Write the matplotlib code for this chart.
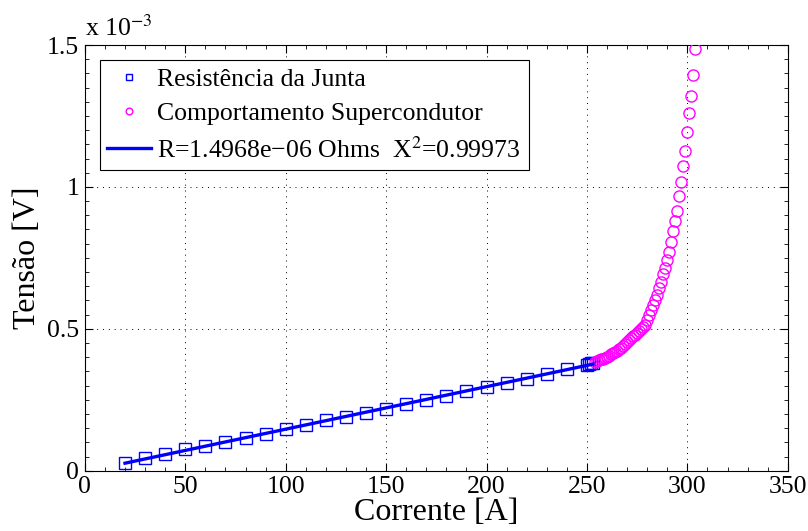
import numpy as np
import matplotlib
matplotlib.use("Agg")
import matplotlib.pyplot as plt
from matplotlib.ticker import MultipleLocator

plt.rcParams['font.family'] = ['Liberation Serif', 'DejaVu Serif']
plt.rcParams['mathtext.fontset'] = 'stix'

# Resistência da Junta (current in A, voltage in units of 1e-3 V)
junta_I = [20, 30, 40, 50, 60, 70, 80, 90, 100, 110, 120, 130, 140, 150, 160,
           170, 180, 190, 200, 210, 220, 230, 240, 250, 251, 252, 253]
junta_V = [0.026, 0.044, 0.059, 0.075, 0.087, 0.101, 0.117, 0.131, 0.147, 0.161,
           0.177, 0.190, 0.204, 0.217, 0.234, 0.249, 0.264, 0.281, 0.296, 0.308,
           0.323, 0.340, 0.357, 0.374, 0.376, 0.378, 0.380]

# Comportamento Supercondutor
sc_I = list(range(254, 305))
sc_V = [0.383, 0.386, 0.389, 0.392, 0.395, 0.398, 0.402, 0.406, 0.410, 0.414,
        0.418, 0.423, 0.428, 0.434, 0.440, 0.446, 0.452, 0.459, 0.466, 0.473,
        0.479, 0.486, 0.493, 0.499, 0.506,
        0.513, 0.531, 0.549, 0.566, 0.584, 0.601, 0.619, 0.643, 0.666, 0.692,
        0.715, 0.742, 0.772, 0.807, 0.845, 0.881, 0.916, 0.968, 1.016, 1.075,
        1.128, 1.192, 1.261, 1.321, 1.394, 1.486]

fit_label = 'R=1.4968e\u221206 Ohms  X$^2$=0.99973'
x_ticks = [0, 50, 100, 150, 200, 250, 300, 350]
y_ticks = [0, 0.5, 1, 1.5]
y_ticklabels = ['0', '0.5', '1', '1.5']

fig = plt.figure(figsize=(8.08, 5.31), dpi=100)
ax = fig.add_axes([0.105, 0.1135, 0.870, 0.8017])

# fit line from data
coef = np.polyfit(junta_I, junta_V, 1)
fx = np.array([junta_I[0], junta_I[-1]])
ax.plot(junta_I, junta_V, linestyle='none', marker='s', markersize=8,
        markerfacecolor='none', markeredgecolor='#0000ff', markeredgewidth=1.0,
        label='Resistência da Junta', zorder=3)
ax.plot(sc_I, sc_V, linestyle='none', marker='o', markersize=8,
        markerfacecolor='none', markeredgecolor='#ff00ff', markeredgewidth=1.0,
        label='Comportamento Supercondutor', zorder=3)
ax.plot(fx, np.polyval(coef, fx), color='#0000ff', linewidth=2.4,
        label=fit_label, zorder=4)

ax.set_xlim(0, 350)
ax.set_ylim(0, 1.5)
ax.set_xticks(x_ticks)
ax.set_yticks(y_ticks)
ax.set_yticklabels(y_ticklabels)
ax.xaxis.set_minor_locator(MultipleLocator(10))
ax.yaxis.set_minor_locator(MultipleLocator(0.05))
ax.tick_params(which='both', direction='in', top=True, right=True,
               labelsize=18.5, pad=4)
ax.tick_params(which='major', length=6, width=0.8)
ax.tick_params(which='minor', length=3, width=0.6)
ax.grid(True, which='major', linestyle=(0, (1, 5)), color='black', linewidth=0.7)
for s in ax.spines.values():
    s.set_linewidth(0.8)

ax.set_xlabel('Corrente [A]', fontsize=23, labelpad=0)
ax.set_ylabel('Tensão [V]', fontsize=23, labelpad=4)
ax.text(0.0, 1.01, 'x 10$^{-3}$', transform=ax.transAxes, fontsize=18.5,
        ha='left', va='bottom')

leg = ax.legend(loc='upper left', bbox_to_anchor=(0.021, 0.965), fontsize=18.5,
                frameon=True, fancybox=False, edgecolor='black',
                framealpha=1, markerscale=0.6, handlelength=1.7,
                handletextpad=0.25, borderpad=0.3, labelspacing=0.45,
                borderaxespad=0)
leg.get_frame().set_linewidth(0.8)

fig.savefig('out.png', dpi=100)
